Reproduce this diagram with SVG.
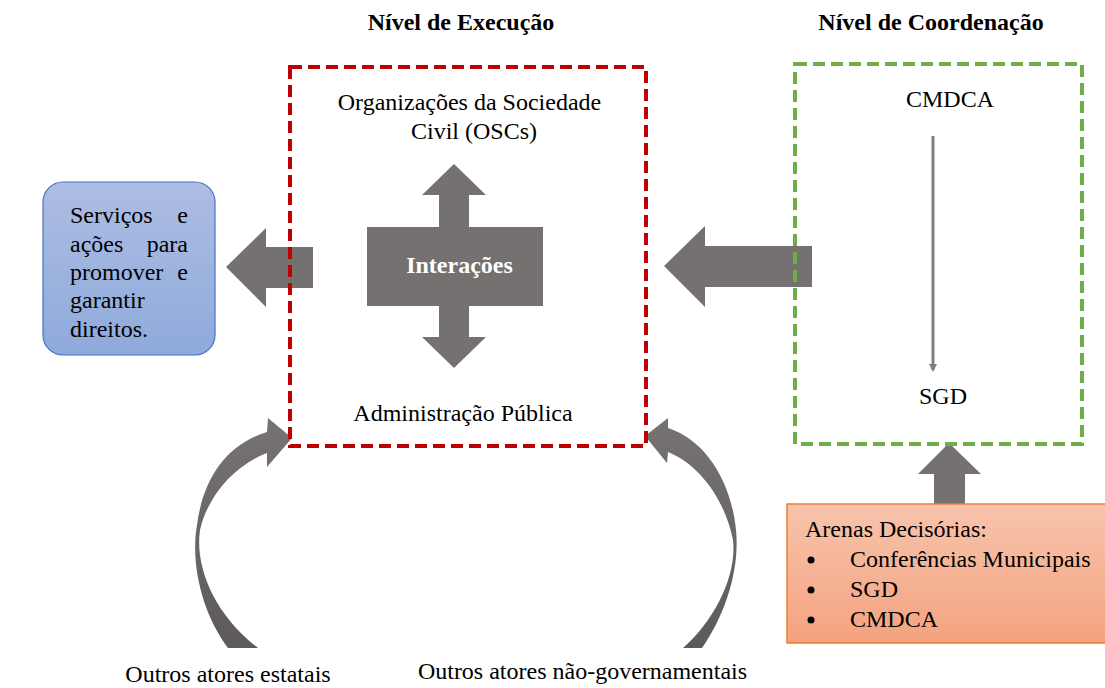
<svg xmlns="http://www.w3.org/2000/svg" width="1105" height="688" viewBox="0 0 1105 688">
<style>
text{font-family:"Liberation Serif","Times New Roman",serif;fill:#000;}
.t{font-size:24px;}
.h{font-size:24px;font-weight:bold;}
.c{text-anchor:middle;}
.e{text-anchor:end;}
.arr{fill:#767171;}
</style>
<defs>
<linearGradient id="gb" x1="0" y1="0" x2="0" y2="1"><stop offset="0" stop-color="#adbde3"/><stop offset="1" stop-color="#8eaadb"/></linearGradient>
<linearGradient id="go" x1="0" y1="0" x2="0" y2="1"><stop offset="0" stop-color="#f8c4ac"/><stop offset="1" stop-color="#f4a27f"/></linearGradient>
<linearGradient id="gc" x1="0" y1="0" x2="0" y2="1"><stop offset="0" stop-color="#777373"/><stop offset="1" stop-color="#5e5a5a"/></linearGradient>
<marker id="ah" markerWidth="8" markerHeight="8" refX="6" refY="4" orient="auto" markerUnits="userSpaceOnUse"><path d="M0,0 L8,4 L0,8 Z" fill="#7f7f7f"/></marker>
</defs>
<rect width="1105" height="688" fill="#fff"/>
<g id="connectors">
<path class="arr" d="M313,247 L266,247 L266,228 L226,267 L266,307 L266,288 L313,288 Z"/>
<path class="arr" d="M812,246 L705,246 L705,226 L664,266 L705,307 L705,287 L812,287 Z"/>
<path class="arr" d="M934,504 L934,474 L918,474 L949,443 L981,474 L965,474 L965,504 Z"/>
<line x1="933" y1="136" x2="933" y2="370" stroke="#7f7f7f" stroke-width="3" marker-end="url(#ah)"/>
<path fill="url(#gc)" d="M228,648 C203,615 190,565 197,525 C203,480 225,445 267,432 L268,418 L292,438 L267,467 L267,453 C235,465 208,495 200,530 C195,565 212,612 258,648 Z"/>
<path fill="url(#gc)" d="M702,648 C725,615 740,570 736,530 C731,480 705,440 668,428 L668,418 L645,436 L667,463 L668,452 C700,465 725,500 733,540 C737,575 715,620 683,648 Z"/>
</g>
<g id="interacoes">
<path class="arr" d="M454,164 L486,195 L469,195 L469,227 L543,227 L543,306 L469,306 L469,337 L486,337 L454,368 L422,337 L439,337 L439,306 L367,306 L367,227 L439,227 L439,195 L422,195 Z"/>
<text x="459.5" y="273" class="c" style="font-size:24px;font-weight:bold;fill:#fff">Interações</text>
</g>
<g id="execucao">
<rect x="290" y="67" width="356" height="379" fill="none" stroke="#c00000" stroke-width="4" stroke-dasharray="12,6"/>
<text x="461" y="30" class="h c">Nível de Execução</text>
<text x="469.5" y="110" class="t c">Organizações da Sociedade</text>
<text x="474" y="139" class="t c">Civil (OSCs)</text>
<text x="463" y="421" class="t c">Administração Pública</text>
</g>
<g id="coordenacao">
<rect x="795" y="64" width="287" height="380" fill="none" stroke="#70ad47" stroke-width="4" stroke-dasharray="12,6"/>
<text x="931" y="30" class="h c">Nível de Coordenação</text>
<text x="950" y="107" class="t c">CMDCA</text>
<text x="943" y="404" class="t c">SGD</text>
</g>
<g id="servicos">
<rect x="43" y="182" width="172" height="173" rx="20" fill="url(#gb)" stroke="#4472c4" stroke-width="1.2"/>
<text x="70" y="223" class="t">Serviços</text><text x="188" y="223" class="t e">e</text>
<text x="70" y="252" class="t">ações</text><text x="188" y="252" class="t e">para</text>
<text x="70" y="280" class="t">promover</text><text x="188" y="280" class="t e">e</text>
<text x="70" y="308" class="t">garantir</text>
<text x="70" y="337" class="t">direitos.</text>
</g>
<g id="arenas">
<rect x="787" y="504" width="330" height="139" fill="url(#go)" stroke="#ed7d31" stroke-width="1.5"/>
<text x="805" y="537" class="t">Arenas Decisórias:</text>
<circle cx="811" cy="560" r="3.5"/><text x="850" y="567" class="t">Conferências Municipais</text>
<circle cx="811" cy="590" r="3.5"/><text x="850" y="597" class="t">SGD</text>
<circle cx="811" cy="620" r="3.5"/><text x="850" y="627" class="t">CMDCA</text>
</g>
<g id="estatais">
<text x="228" y="682" class="t c">Outros atores estatais</text>
</g>
<g id="naogov">
<text x="582.5" y="679" class="t c">Outros atores não-governamentais</text>
</g>
</svg>
